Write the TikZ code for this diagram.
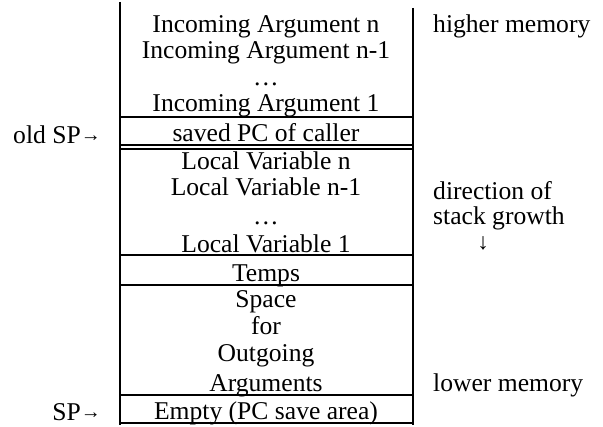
\documentclass[tikz,border=0pt]{standalone}
\usepackage{fontspec}
\setmainfont{Liberation Serif}
\newcommand{\smarrow}[1]{\raisebox{2.5pt}{\fontsize{20}{20}\selectfont #1}}
\begin{document}
\begin{tikzpicture}[x=1pt,y=-1pt,
  txt/.style={anchor=base,inner sep=0pt,font=\fontsize{25.6}{26}\selectfont},
  lbl/.style={anchor=base west,inner sep=0pt,font=\fontsize{25.6}{26}\selectfont},
  lblr/.style={anchor=base east,inner sep=0pt,font=\fontsize{25.6}{26}\selectfont},
  frame/.style={line width=1.2pt},
  sep/.style={line width=1.2pt}]
\useasboundingbox (0,0) rectangle (603,427);
% frame
\coordinate (tl) at (120,2);
\coordinate (bl) at (120,425);
\coordinate (tr) at (413,8);
\coordinate (br) at (413,425);
\draw[frame] (tl) -- (bl);
\draw[frame] (tr) -- (br);
\foreach \yy in {117,145,149,255,285,395}{
  \draw[sep] (120,\yy) -- (413,\yy);
}
\draw[line width=1.8pt] (120,423) -- (414,423);
% incoming arguments
\node[txt] (in1) at (266,33) {Incoming Argument n};
\node[txt] (in2) at (266,59) {Incoming Argument n-1};
\node[txt] (in3) at (266,86) {\ldots};
\node[txt] (in4) at (266,112) {Incoming Argument 1};
\node[txt] (pc) at (266,142) {saved PC of caller};
% locals
\node[txt] (lv1) at (266,170) {Local Variable n};
\node[txt] (lv2) at (266,196) {Local Variable n-1};
\node[txt] (lv3) at (266,225) {\ldots};
\node[txt] (lv4) at (266,253) {Local Variable 1};
\node[txt] (tmp) at (266,282) {Temps};
% outgoing
\node[txt] (sp1) at (266,308) {Space};
\node[txt] (sp2) at (266,335) {for};
\node[txt] (sp3) at (266,362) {Outgoing};
\node[txt] (sp4) at (266,392) {Arguments};
\node[txt] (emp) at (266,420) {Empty (PC save area)};
% left labels
\node[lblr] (osp) at (101,144) {old SP\smarrow{→}};
\node[lblr] (nsp) at (101,421) {SP\smarrow{→}};
% right labels
\node[lbl] (hm) at (433,33) {higher memory};
\node[lbl] (dir1) at (433,200) {direction of};
\node[lbl] (dir2) at (433,225) {stack growth};
\node[txt] (dar) at (483,250) {{\fontsize{23}{23}\selectfont ↓}};
\node[lbl] (lm) at (433,392) {lower memory};
\end{tikzpicture}
\end{document}
